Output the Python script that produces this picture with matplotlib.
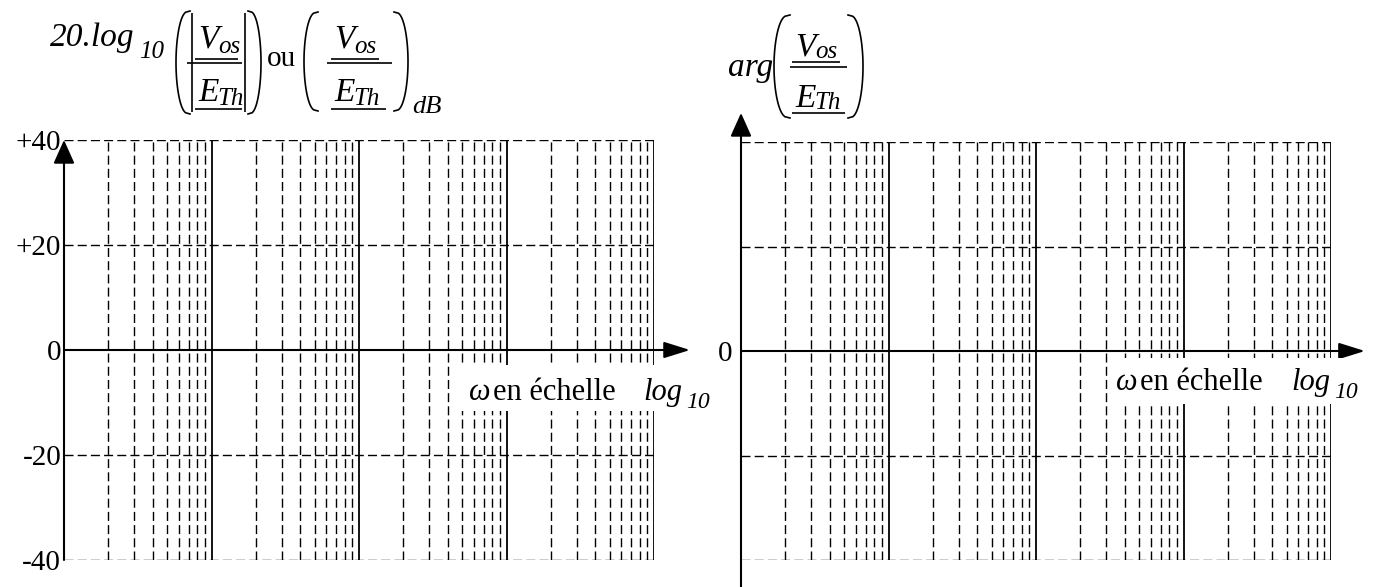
import numpy as np
import matplotlib
matplotlib.use('Agg')
import matplotlib.pyplot as plt
from matplotlib.patches import Rectangle

# ---- data (grid paper definition) ----
decades = [1, 10, 100, 1000, 10000]
multiples = [2, 3, 4, 5, 6, 7, 8, 9]
gain_levels = [-40, -20, 0, 20, 40]
gain_labels = ['-40', '-20', '0', '+20', '+40']
phase_levels = [-180, -90, 0, 90, 180]
phase_labels = ['', '', '0', '', '']

W, H = 1378, 587
plt.rcParams['font.family'] = ['Liberation Serif', 'DejaVu Serif']
fig = plt.figure(figsize=(W / 100, H / 100), dpi=100)


def rect(x0, x1, y0, y1):
    return [x0 / W, (H - y1) / H, (x1 - x0) / W, (y1 - y0) / H]


axL = fig.add_axes(rect(64, 654, 140, 560))
axR = fig.add_axes(rect(741, 1331, 142, 560))

DASH = (0, (6.5, 3))


def draw_paper(ax, levels, labels, labelpad, ytip, ybot, xtip):
    ax.set_xscale('log')
    ax.set_xlim(decades[0], decades[-1])
    ax.set_ylim(levels[0], levels[-1])
    for s in ax.spines.values():
        s.set_visible(False)
    ax.set_xticks([])
    ax.set_xticks([], minor=True)
    ax.set_yticks(levels)
    ax.set_yticklabels(labels, fontsize=21)
    ax.tick_params(axis='y', length=0, pad=labelpad)
    ax.patch.set_visible(False)
    for d in decades[:-1]:
        for m in multiples:
            ax.axvline(d * m, color='k', lw=1.0, ls=DASH)
    for d in decades[1:]:
        ax.axvline(d, color='k', lw=1.3)
    for lv in levels:
        if lv != 0:
            ax.axhline(lv, color='k', lw=1.0, ls=DASH)
    # horizontal axis with arrow
    ax.annotate('', xy=(xtip, 0), xytext=(decades[0], 0),
                arrowprops=dict(arrowstyle='-|>,head_length=1.6,head_width=0.5',
                                color='k', lw=1.5, shrinkA=0, shrinkB=0,
                                mutation_scale=10),
                annotation_clip=False)
    # vertical axis with arrow
    ax.annotate('', xy=(decades[0], ytip), xytext=(decades[0], ybot),
                arrowprops=dict(arrowstyle='-|>,head_length=1.45,head_width=0.65',
                                color='k', lw=1.5, shrinkA=0, shrinkB=0,
                                mutation_scale=10),
                annotation_clip=False)


draw_paper(axL, gain_levels, gain_labels, 2, gain_levels[-1], gain_levels[0],
           decades[-1] * 10 ** 0.244)
draw_paper(axR, phase_levels, phase_labels, 6, phase_levels[-1] + 25,
           phase_levels[0] - 24, decades[-1] * 10 ** 0.23)

# ---- overlay for typography ----
ov = fig.add_axes([0, 0, 1, 1])
ov.set_xlim(0, W)
ov.set_ylim(H, 0)
ov.axis('off')


def txt(x, y, s, size=20, italic=False):
    ov.text(x, y, s, fontsize=size, style='italic' if italic else 'normal',
            ha='left', va='baseline')


def hline(x0, x1, y, lw=1.2):
    ov.plot([x0, x1], [y, y], color='k', lw=lw, solid_capstyle='butt')


def vline(x, y0, y1, lw=1.2):
    ov.plot([x, x], [y0, y1], color='k', lw=lw, solid_capstyle='butt')


def paren(x0, x1, y0, y1, left=True):
    t = np.linspace(0, 1, 80)
    b = np.sin(np.pi * t) ** 0.35
    x = x1 - (x1 - x0) * b if left else x0 + (x1 - x0) * b
    y = y0 + (y1 - y0) * t
    ov.plot(x, y, color='k', lw=1.2)


def frac(x, ynum, yden, ubar_num, bar_y, bar_x0, bar_x1, uden_y, wnum, wden,
         dnum=6, dden=4):
    txt(x, ynum, 'V', 24, True)
    txt(x + 20, ynum + dnum, 'os', 18, True)
    hline(x - 3, x + wnum, ubar_num)
    hline(bar_x0, bar_x1, bar_y)
    txt(x, yden, 'E', 24, True)
    txt(x + 19, yden + dden, 'Th', 18, True)
    hline(x - 3, x + wden, uden_y)


# left title
txt(50, 46, '20.log', 24, True)
txt(139, 58, '10', 18, True)
paren(176, 190, 11, 114, True)
vline(192, 13, 112)
frac(198, 47, 101, 59, 63, 187, 242, 109, 40, 44)
vline(245, 13, 112)
paren(248, 261, 11, 114, False)
txt(267, 66, 'ou', 21, False)
paren(304, 318, 12, 111, True)
frac(334, 47, 101, 59, 63, 327, 392, 109, 45, 52)
paren(394, 408, 12, 111, False)
txt(412, 113, 'dB', 19, True)

# right title
txt(728, 76, 'arg', 24, True)
paren(774, 790, 15, 118, True)
frac(795, 55, 107, 62, 67, 790, 847, 113, 45, 50, 3, 2)
paren(848, 863, 15, 118, False)

# axis captions with white background
ov.add_patch(Rectangle((455, 365), 262, 46, fc='white', ec='none'))
txt(469, 400, 'ω', 22, True)
txt(493, 400, 'en échelle', 22, False)
txt(643, 400, 'log', 22, True)
txt(686, 408, '10', 17, True)

ov.add_patch(Rectangle((1108, 358), 262, 46, fc='white', ec='none'))
txt(1116, 390, 'ω', 22, True)
txt(1140, 390, 'en échelle', 22, False)
txt(1291, 390, 'log', 22, True)
txt(1334, 398, '10', 17, True)

fig.savefig('out.png', dpi=100)
